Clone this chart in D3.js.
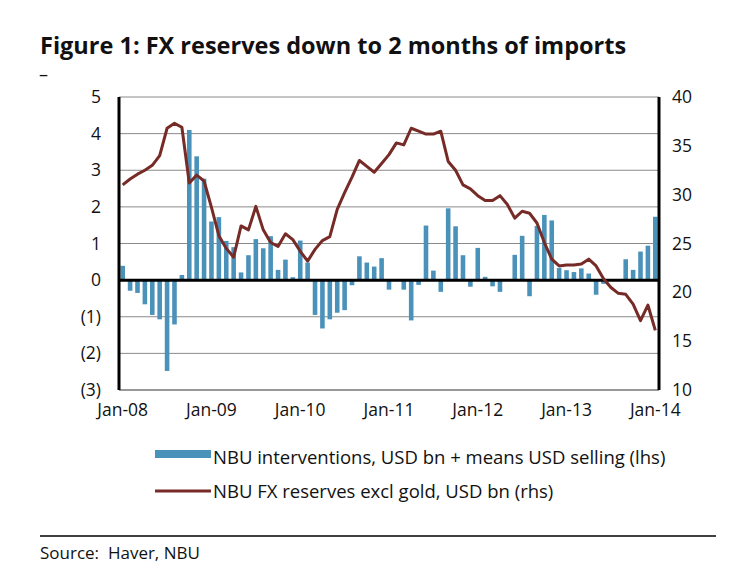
<!DOCTYPE html>
<html>
<head>
<meta charset="utf-8">
<script src="https://cdn.jsdelivr.net/npm/d3@7"></script>
<style>
  body { margin: 0; background: #fff; }
  svg { display: block; }
  text { font-family: "Open Sans", "Noto Sans", sans-serif; fill: #111; }
</style>
</head>
<body>
<svg id="chart" width="736" height="570"></svg>
<script>
// Monthly, Jan-08 .. Jan-14 (73 months)
const startYear = 2008;
const nMonths = 73;
const xTickLabels = ["Jan-08", "Jan-09", "Jan-10", "Jan-11", "Jan-12", "Jan-13", "Jan-14"];
const leftTicks = [5, 4, 3, 2, 1, 0, -1, -2, -3];
const rightTicks = [40, 35, 30, 25, 20, 15, 10];

// NBU interventions, USD bn + means USD selling (lhs)
const interventions = [
  0.39, -0.29, -0.35, -0.66, -0.95, -1.07, -2.48, -1.21, 0.14, 4.10, 3.38, 2.77,
  1.60, 1.72, 1.07, 0.90, 0.21, 0.68, 1.12, 0.87, 1.20, 0.28, 0.56, 0.08,
  1.08, 0.48, -0.95, -1.32, -1.07, -0.89, -0.82, -0.14, 0.65, 0.48, 0.37, 0.60,
  -0.26, 0.00, -0.26, -1.10, -0.13, 1.49, 0.26, -0.32, 1.96, 1.47, 0.68, -0.18,
  0.88, 0.09, -0.17, -0.32, 0.00, 0.69, 1.21, -0.44, 1.48, 1.78, 1.63, 0.33,
  0.27, 0.22, 0.32, 0.18, -0.40, -0.10, 0.00, 0.00, 0.57, 0.28, 0.78, 0.94,
  1.73
];

// NBU FX reserves excl gold, USD bn (rhs)
const reserves = [
  31.0, 31.6, 32.1, 32.5, 33.0, 34.0, 36.8, 37.3, 36.9, 31.2, 32.0, 31.4,
  28.7, 25.8, 24.5, 23.6, 26.8, 26.4, 28.8, 26.4, 25.1, 24.7, 26.0, 25.4,
  24.2, 23.2, 24.4, 25.3, 25.7, 28.5, 30.2, 31.8, 33.5, 32.9, 32.3, 33.2,
  34.1, 35.3, 35.1, 36.8, 36.5, 36.2, 36.2, 36.5, 33.4, 32.5, 31.0, 30.6,
  29.9, 29.4, 29.4, 29.9, 29.0, 27.6, 28.3, 28.1, 27.1, 25.1, 23.4, 22.7,
  22.8, 22.8, 22.9, 23.4, 22.7, 21.4, 20.5, 19.9, 19.8, 18.8, 17.1, 18.7,
  16.1
];

const legendLabels = [
  "NBU interventions, USD bn + means USD selling (lhs)",
  "NBU FX reserves excl gold, USD bn (rhs)"
];
const titleText = "Figure 1: FX reserves down to 2 months of imports";
const sourceText = "Source:\u00a0\u00a0Haver, NBU";

const barColor = "#4a92b9";
const lineColor = "#762b27";

const svg = d3.select("#chart");
const plot = { left: 119, right: 659, top: 97, bottom: 390 };

const idx = d3.range(nMonths);
const x = d3.scaleBand().domain(idx).range([plot.left, plot.right]).paddingInner(0.38).paddingOuter(0.19);
const xc = i => x(i) + x.bandwidth() / 2;
const yL = d3.scaleLinear().domain([-3, 5]).range([plot.bottom, plot.top]);
const yR = d3.scaleLinear().domain([10, 40]).range([plot.bottom, plot.top]);

// Title
svg.append("text").attr("x", 40).attr("y", 54)
  .style("font-weight", "bold").style("font-size", "23.5px").text(titleText);
svg.append("text").attr("x", 39).attr("y", 81)
  .style("font-size", "18px").text("\u2013");

// Gridlines
svg.append("g").selectAll("line").data(leftTicks.filter(d => d !== 0 && d !== -3)).join("line")
  .attr("x1", plot.left).attr("x2", plot.right)
  .attr("y1", d => yL(d)).attr("y2", d => yL(d))
  .attr("stroke", "#8a8a8a").attr("stroke-width", 1);

// bottom border
svg.append("line").attr("x1", plot.left).attr("x2", plot.right)
  .attr("y1", yL(-3)).attr("y2", yL(-3)).attr("stroke", "#333").attr("stroke-width", 1.2);

// Bars
svg.append("g").selectAll("rect").data(idx).join("rect")
  .attr("x", i => x(i))
  .attr("width", x.bandwidth())
  .attr("y", i => yL(Math.max(0, interventions[i])))
  .attr("height", i => Math.abs(yL(interventions[i]) - yL(0)))
  .attr("fill", barColor);

// Zero line
svg.append("line").attr("x1", plot.left).attr("x2", plot.right)
  .attr("y1", yL(0)).attr("y2", yL(0)).attr("stroke", "#000").attr("stroke-width", 3);

// Line
const line = d3.line().x(i => xc(i)).y(i => yR(reserves[i]));
svg.append("path").datum(idx).attr("d", line)
  .attr("fill", "none").attr("stroke", lineColor).attr("stroke-width", 3)
  .attr("stroke-linejoin", "round");

// Axes lines
svg.append("line").attr("x1", plot.left).attr("x2", plot.left)
  .attr("y1", plot.top).attr("y2", plot.bottom).attr("stroke", "#000").attr("stroke-width", 3);
svg.append("line").attr("x1", plot.right).attr("x2", plot.right)
  .attr("y1", plot.top).attr("y2", plot.bottom).attr("stroke", "#000").attr("stroke-width", 3);

// Left axis
const fmtL = d => d < 0 ? "(" + Math.abs(d) + ")" : String(d);
const axL = d3.axisLeft(yL).tickValues(leftTicks).tickFormat(fmtL).tickSize(0).tickPadding(18);
const gL = svg.append("g").attr("transform", `translate(${plot.left},0)`).call(axL);
gL.select(".domain").remove();
gL.selectAll("text").style("font-size", "17.5px").style("font-family", '"Open Sans", sans-serif').attr("fill", "#111");

// Right axis
const axR = d3.axisRight(yR).tickValues(rightTicks).tickSize(0).tickPadding(13);
const gR = svg.append("g").attr("transform", `translate(${plot.right},0)`).call(axR);
gR.select(".domain").remove();
gR.selectAll("text").style("font-size", "17.5px").style("font-family", '"Open Sans", sans-serif').attr("fill", "#111");

// X axis
const xTickIdx = xTickLabels.map((d, k) => k * 12);
const axX = d3.axisBottom(x).tickValues(xTickIdx).tickFormat(i => xTickLabels[i / 12]).tickSize(0).tickPadding(14);
const gX = svg.append("g").attr("transform", `translate(0,${plot.bottom})`).call(axX);
gX.select(".domain").remove();
gX.selectAll("text").style("font-size", "17.5px").style("font-family", '"Open Sans", sans-serif').attr("fill", "#111");

// Legend
svg.append("rect").attr("x", 155).attr("y", 450).attr("width", 56).attr("height", 8).attr("fill", barColor);
svg.append("text").attr("x", 213).attr("y", 464).style("font-size", "18.5px").text(legendLabels[0]);
svg.append("line").attr("x1", 155).attr("x2", 211).attr("y1", 491).attr("y2", 491)
  .attr("stroke", lineColor).attr("stroke-width", 3);
svg.append("text").attr("x", 213).attr("y", 498).style("font-size", "18.5px").text(legendLabels[1]);

// Separator and source
svg.append("line").attr("x1", 40).attr("x2", 716).attr("y1", 536).attr("y2", 536)
  .attr("stroke", "#000").attr("stroke-width", 1.5);
svg.append("text").attr("x", 40).attr("y", 559).style("font-size", "17px").text(sourceText);
</script>
</body>
</html>
